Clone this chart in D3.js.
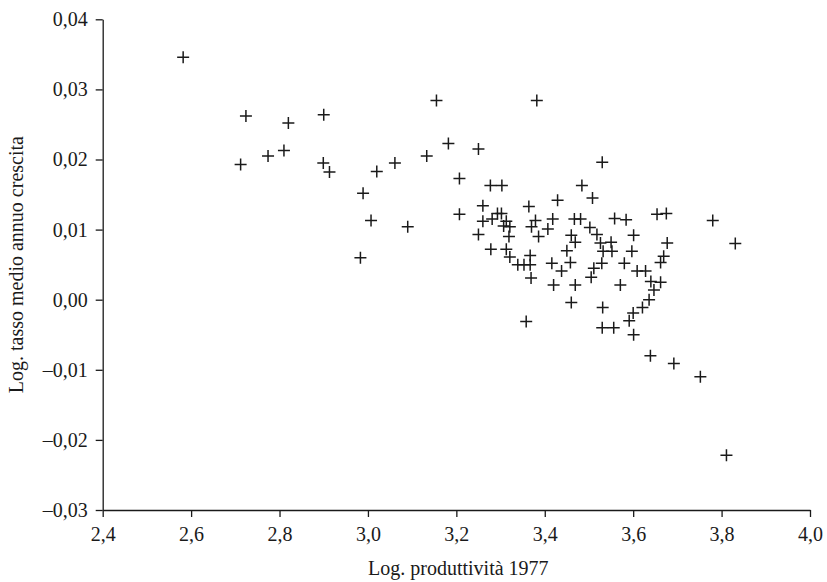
<!DOCTYPE html>
<html lang="it">
<head>
    <meta charset="UTF-8">
    <title>Produttività e crescita</title>
    <script src="https://d3js.org/d3.v7.min.js"></script>
    <style>
        body { margin: 0; background: #fff; }
        text { font-family: "Liberation Serif", "DejaVu Serif", serif; fill: #1a1a1a; }
        .axis path, .axis line { stroke: #1a1a1a; stroke-width: 1.3px; }
        .title { font-size: 20px; }
        .mark { stroke: #1a1a1a; stroke-width: 1.5px; }
    </style>
</head>
<body>
    <script>
        // Log. produttività 1977
        const logProd = [
            2.582, 2.724, 2.820, 2.712, 2.774, 2.810, 2.900, 2.899, 2.913, 3.020,
            3.061, 2.989, 3.007, 3.090, 2.983, 3.155, 3.382, 3.182, 3.133, 3.250,
            3.530, 3.207, 3.277, 3.303, 3.484, 3.508, 3.429, 3.207, 3.260, 3.364,
            3.558, 3.260, 3.281, 3.293, 3.302, 3.313, 3.307, 3.321, 3.319, 3.250,
            3.278, 3.313, 3.321, 3.339, 3.353, 3.367, 3.367, 3.369, 3.358, 3.379,
            3.370, 3.386, 3.407, 3.418, 3.416, 3.420, 3.438, 3.458, 3.460, 3.469,
            3.450, 3.467, 3.481, 3.469, 3.460, 3.502, 3.518, 3.526, 3.532, 3.552,
            3.550, 3.529, 3.511, 3.505, 3.531, 3.530, 3.556, 3.584, 3.654, 3.675,
            3.780, 3.831, 3.601, 3.597, 3.677, 3.669, 3.662, 3.580, 3.609, 3.628,
            3.640, 3.662, 3.647, 3.571, 3.636, 3.621, 3.600, 3.591, 3.601, 3.639,
            3.692, 3.752, 3.811
        ];

        // Log. tasso medio annuo crescita
        const logCrescita = [
            0.0346, 0.0262, 0.0252, 0.0193, 0.0205, 0.0213, 0.0264, 0.0195, 0.0182, 0.0183,
            0.0195, 0.0152, 0.0113, 0.0104, 0.0060, 0.0284, 0.0284, 0.0223, 0.0205, 0.0215,
            0.0196, 0.0173, 0.0163, 0.0163, 0.0163, 0.0145, 0.0142, 0.0122, 0.0134, 0.0133,
            0.0116, 0.0112, 0.0115, 0.0123, 0.0123, 0.0112, 0.0105, 0.0104, 0.0090, 0.0093,
            0.0072, 0.0072, 0.0061, 0.0050, 0.0050, 0.0050, 0.0063, 0.0031, -0.0031, 0.0113,
            0.0104, 0.0090, 0.0101, 0.0115, 0.0052, 0.0021, 0.0041, 0.0053, 0.0092, 0.0082,
            0.0070, 0.0115, 0.0115, 0.0021, -0.0004, 0.0103, 0.0093, 0.0081, 0.0069, 0.0069,
            0.0082, 0.0052, 0.0045, 0.0032, -0.0011, -0.0040, -0.0040, 0.0114, 0.0122, 0.0123,
            0.0113, 0.0080, 0.0092, 0.0069, 0.0081, 0.0062, 0.0053, 0.0052, 0.0041, 0.0041,
            0.0026, 0.0025, 0.0014, 0.0021, 0.0000, -0.0011, -0.0019, -0.0030, -0.0050, -0.0080,
            -0.0091, -0.0110, -0.0222
        ];

        const xTicks = [2.4, 2.6, 2.8, 3.0, 3.2, 3.4, 3.6, 3.8, 4.0];
        const xTickLabels = ["2,4", "2,6", "2,8", "3,0", "3,2", "3,4", "3,6", "3,8", "4,0"];
        const yTicks = [-0.03, -0.02, -0.01, 0.00, 0.01, 0.02, 0.03, 0.04];
        const yTickLabels = ["\u20130,03", "\u20130,02", "\u20130,01", "0,00", "0,01", "0,02", "0,03", "0,04"];

        const xTitle = "Log. produttività 1977";
        const yTitle = "Log. tasso medio annuo crescita";

        const width = 827, height = 582;
        const margin = {top: 19.3, right: 17, bottom: 72, left: 102.7};
        const serif = '"Liberation Serif", "DejaVu Serif", serif';

        const svg = d3.select("body")
            .append("svg")
            .attr("width", width)
            .attr("height", height);

        const x = d3.scaleLinear()
            .domain([2.4, 4.0])
            .range([margin.left, width - margin.right]);

        const y = d3.scaleLinear()
            .domain([-0.03, 0.04])
            .range([height - margin.bottom, margin.top]);

        // axes
        svg.append("g")
            .attr("class", "axis")
            .attr("transform", `translate(0,${height - margin.bottom})`)
            .call(d3.axisBottom(x)
                .tickValues(xTicks)
                .tickSize(7)
                .tickPadding(10)
                .tickSizeOuter(0)
                .tickFormat((d, i) => xTickLabels[i]))
            .attr("font-family", serif)
            .attr("font-size", 20)
            .call(g => g.selectAll("text").attr("fill", "#1a1a1a"));

        svg.append("g")
            .attr("class", "axis")
            .attr("transform", `translate(${margin.left},0)`)
            .call(d3.axisLeft(y)
                .tickValues(yTicks)
                .tickSize(7)
                .tickPadding(8)
                .tickSizeOuter(0)
                .tickFormat((d, i) => yTickLabels[i]))
            .attr("font-family", serif)
            .attr("font-size", 20)
            .call(g => g.selectAll("text").attr("fill", "#1a1a1a"));

        // axis titles
        svg.append("text")
            .attr("class", "title")
            .attr("x", (margin.left + width - margin.right) / 2 + 2)
            .attr("y", height - 7)
            .attr("text-anchor", "middle")
            .text(xTitle);

        svg.append("text")
            .attr("class", "title")
            .attr("transform", `translate(23,${(margin.top + height - margin.bottom) / 2}) rotate(-90)`)
            .attr("text-anchor", "middle")
            .text(yTitle);

        // points as plus signs
        const points = logProd.map((v, i) => ({px: v, gr: logCrescita[i]}));
        const arm = 6;

        svg.append("g")
            .selectAll("path")
            .data(points)
            .join("path")
            .attr("class", "mark")
            .attr("d", d => {
                const cx = x(d.px), cy = y(d.gr);
                return `M${cx - arm},${cy}H${cx + arm}M${cx},${cy - arm}V${cy + arm}`;
            });
    </script>
</body>
</html>
